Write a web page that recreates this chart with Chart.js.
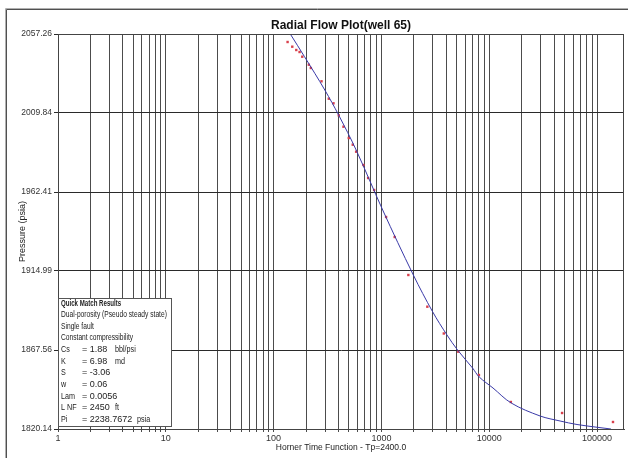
<!DOCTYPE html>
<html>
<head>
<meta charset="utf-8">
<script src="https://cdn.jsdelivr.net/npm/chart.js@4/dist/chart.umd.min.js"></script>
<style>
html, body { margin: 0; padding: 0; background: #fff; }
</style>
</head>
<body>
<canvas id="plot" width="628" height="458"></canvas>
<script>
// measured points
const horner = [134.8, 149, 162.3, 174.1, 184.4, 212.3, 221.5, 278.3, 325.1, 359.4, 402.3, 444.8, 498.1, 542.4,
    583.1, 681.3, 753.3, 855.8, 1105, 1328, 1778, 2667, 3791, 5164, 8028, 15880, 47420, 140700];
const pressure = [2052.46, 2049.64, 2047.65, 2046.45, 2043.63, 2038.83, 2036.85, 2028.87, 2018.42, 2015.66, 2008.46,
    2001.61, 1994.83, 1990.81, 1986.6, 1978.62, 1970.82, 1963.62, 1947.41, 1935.4, 1912.59, 1893.56, 1877.47,
    1866.55, 1852.56, 1836.35, 1829.75, 1824.35];

// model curve
const fitHorner = [142.8, 193.6, 298.5, 402.3, 583.1, 1028, 1978, 2985, 4058, 5088, 7005, 8080, 10845, 15990,
    29670, 45440, 65270, 104300, 134800];
const fitPressure = [2057.26, 2043.63, 2023.64, 2008.46, 1987.62, 1951.61, 1912.59, 1890.55, 1876.57, 1867.56,
    1856.76, 1851.36, 1844.75, 1835.75, 1827.95, 1824.95, 1822.84, 1821.04, 1820.14];

const xLabels = [1, 10, 100, 1000, 10000, 100000];
const yLabels = ["1820.14", "1867.56", "1914.99", "1962.41", "2009.84", "2057.26"];

const matchTitle = "Quick Match Results";
const matchNotes = ["Dual-porosity (Pseudo steady state)", "Single fault", "Constant compressibility"];
const matchParams = [
    ["Cs", "= 1.88", "bbl/psi"],
    ["K", "= 6.98", "md"],
    ["S", "= -3.06"],
    ["w", "= 0.06"],
    ["Lam", "= 0.0056"],
    ["L NF", "= 2450", "ft"],
    ["Pi", "= 2238.7672", "psia"]
];

const SANS = "'Liberation Sans', Arial, sans-serif";

const yTickValues = yLabels.map(Number);

const framePlugin = {
    id: "frame",
    beforeDraw(chart) {
        const ctx = chart.ctx;
        ctx.save();
        ctx.fillStyle = "#fff";
        ctx.fillRect(0, 0, chart.width, chart.height);
        ctx.lineWidth = 1;
        ctx.strokeStyle = "#b0b0b0";
        ctx.beginPath();
        ctx.moveTo(5.5, 470); ctx.lineTo(5.5, 8.5); ctx.lineTo(640, 8.5);
        ctx.stroke();
        ctx.strokeStyle = "#505050";
        ctx.beginPath();
        ctx.moveTo(6.5, 470); ctx.lineTo(6.5, 9.5); ctx.lineTo(640, 9.5);
        ctx.stroke();
        ctx.restore();
    },
    afterDraw(chart) {
        const ctx = chart.ctx;
        const a = chart.chartArea;
        ctx.save();
        ctx.strokeStyle = "#444";
        ctx.lineWidth = 1;
        ctx.strokeRect(Math.round(a.left) + 0.5, Math.round(a.top) + 0.5,
            Math.round(a.right - a.left) - 1, Math.round(a.bottom - a.top));

        // results box
        const bx = 58.5, by = 298.5, bw = 113, bh = 128;
        ctx.fillStyle = "#fff";
        ctx.fillRect(bx, by, bw, bh);
        ctx.strokeStyle = "#555";
        ctx.strokeRect(bx, by, bw, bh);

        ctx.fillStyle = "#222";
        ctx.textBaseline = "middle";
        const put = (txt, x, y, sx) => {
            ctx.save();
            ctx.translate(x, y);
            ctx.scale(sx, 1);
            ctx.fillText(txt, 0, 0);
            ctx.restore();
        };
        ctx.font = "bold 9px " + SANS;
        put(matchTitle, 61, 304, 0.68);
        ctx.font = "9px " + SANS;
        const noteY = [315, 327, 338];
        matchNotes.forEach((t, i) => put(t, 61, noteY[i], 0.74));
        const rowY = [350, 362, 373, 385, 397, 408, 420];
        matchParams.forEach((row, i) => {
            put(row[0], 61, rowY[i], 0.8);
            put(row[1], 82, rowY[i], 1);
            if (row[2]) put(row[2], row[1].length > 9 ? 137 : 115, rowY[i], 0.8);
        });
        ctx.restore();
    }
};

const ctx = document.getElementById("plot").getContext("2d");
const chart = new Chart(ctx, {
    type: "scatter",
    data: {
        datasets: [
            {
                label: "Model",
                data: fitHorner.map((x, i) => ({ x: x, y: fitPressure[i] })),
                showLine: true,
                borderColor: "#3a3aa8",
                borderWidth: 1,
                pointRadius: 0,
                tension: 0.35,
                order: 1
            },
            {
                label: "Measured",
                data: horner.map((x, i) => ({ x: x, y: pressure[i] })),
                pointStyle: "rect",
                pointRadius: 1.7,
                backgroundColor: "#d8404c",
                borderColor: "#d8404c",
                borderWidth: 0,
                order: 2
            }
        ]
    },
    options: {
        responsive: false,
        devicePixelRatio: 1,
        animation: false,
        layout: { padding: { left: 17, right: 3, top: 0, bottom: 5 } },
        plugins: {
            legend: { display: false },
            tooltip: { enabled: false },
            title: {
                display: true,
                fullSize: false,
                text: "Radial Flow Plot(well 65)",
                color: "#111",
                font: { family: SANS, size: 12, weight: "bold", lineHeight: 1.2 },
                padding: { top: 18.8, bottom: 0.8 }
            }
        },
        scales: {
            x: {
                type: "logarithmic",
                min: 1,
                max: 178000,
                afterBuildTicks: (s) => {
                    const t = [];
                    for (let d = 1; d <= 100000; d *= 10) {
                        for (let m = 1; m <= 9; m++) {
                            if (m * d <= s.max) t.push({ value: m * d });
                        }
                    }
                    s.ticks = t;
                },
                afterFit: (s) => { s.height = 24; },
                ticks: {
                    autoSkip: false,
                    maxRotation: 0,
                    padding: 1,
                    color: "#333",
                    font: { family: SANS, size: 9 },
                    callback: (v) => xLabels.includes(v) ? String(v) : ""
                },
                grid: { color: "#4c4c4c", tickLength: 3, lineWidth: 1 },
                border: { color: "#444" },
                title: {
                    display: true,
                    text: "Horner Time Function - Tp=2400.0",
                    color: "#222",
                    font: { family: SANS, size: 8.5, lineHeight: 1.2 },
                    padding: 0
                }
            },
            y: {
                min: 1820.14,
                max: 2057.26,
                afterBuildTicks: (s) => { s.ticks = yTickValues.map(v => ({ value: v })); },
                afterFit: (s) => { s.width = 41; },
                ticks: {
                    padding: 2,
                    color: "#333",
                    font: { family: SANS, size: 8.5 },
                    callback: (v) => v.toFixed(2)
                },
                grid: { color: "#2a2a2a", tickLength: 4, lineWidth: 1 },
                border: { color: "#444" },
                title: {
                    display: true,
                    text: "Pressure (psia)",
                    color: "#222",
                    font: { family: SANS, size: 9, lineHeight: 1.2 },
                    padding: 0
                }
            }
        }
    },
    plugins: [framePlugin]
});
</script>
</body>
</html>
